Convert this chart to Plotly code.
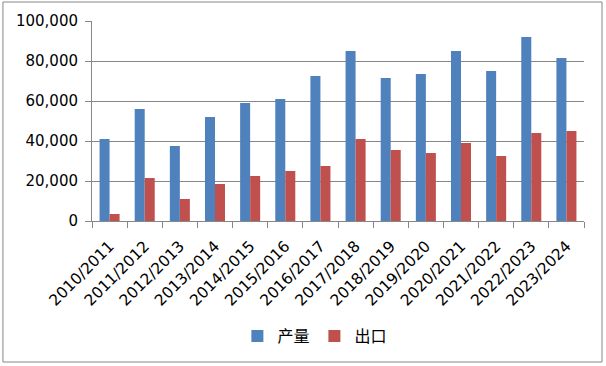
import plotly.graph_objects as go

categories = ["2010/2011", "2011/2012", "2012/2013", "2013/2014", "2014/2015",
              "2015/2016", "2016/2017", "2017/2018", "2018/2019", "2019/2020",
              "2020/2021", "2021/2022", "2022/2023", "2023/2024"]
production = [41000, 56000, 37500, 52000, 59000, 61000, 72500, 85000, 71500,
              73500, 85000, 75000, 92000, 81500]
exports = [3500, 21500, 11000, 18500, 22500, 25000, 27500, 41000, 35500,
           34000, 39000, 32500, 44000, 45000]
series_names = ["产量", "出口"]
y_ticks = [0, 20000, 40000, 60000, 80000, 100000]

BLUE = "#4F81BD"
RED = "#C0504D"
GRID = "#878787"
FONT = "DejaVu Sans, Noto Sans CJK SC, sans-serif"

fig = go.Figure()
fig.add_trace(go.Bar(x=categories, y=production, name=series_names[0],
                     marker=dict(color=BLUE, line=dict(width=0))))
fig.add_trace(go.Bar(x=categories, y=exports, name=series_names[1],
                     marker=dict(color=RED, line=dict(width=0))))

fig.update_layout(
    width=606, height=366,
    margin=dict(l=92, r=22, t=21, b=145),
    paper_bgcolor="white", plot_bgcolor="white",
    barmode="group", bargap=0.43, bargroupgap=0,
    font=dict(family=FONT, size=15, color="#000000"),
    showlegend=True,
    legend=dict(orientation="h", x=0.453, xanchor="center", y=-0.575,
                yanchor="middle", font=dict(family="Noto Sans CJK SC", size=16),
                itemwidth=30, tracegroupgap=0),
    xaxis=dict(type="category", tickangle=-45, tickson="boundaries",
               ticks="outside", ticklen=6, tickcolor=GRID, tickwidth=1,
               showline=True, linecolor=GRID, linewidth=1,
               showgrid=False, tickfont=dict(size=15.5), ticklabelstandoff=9),
    yaxis=dict(range=[0, 100000], tickvals=y_ticks, tickformat=",d",
               ticks="outside", ticklen=6, tickcolor=GRID, tickwidth=1,
               showline=True, linecolor=GRID, linewidth=1,
               showgrid=True, gridcolor=GRID, gridwidth=1,
               zeroline=False, tickfont=dict(size=15), ticklabelstandoff=4),
    shapes=[dict(type="rect", xref="paper", yref="paper",
                 x0=-0.181, x1=1.0366, y0=-0.705, y1=1.095,
                 line=dict(color=GRID, width=1), fillcolor="rgba(0,0,0,0)",
                 layer="below")],
)

fig.write_html("out.html")
